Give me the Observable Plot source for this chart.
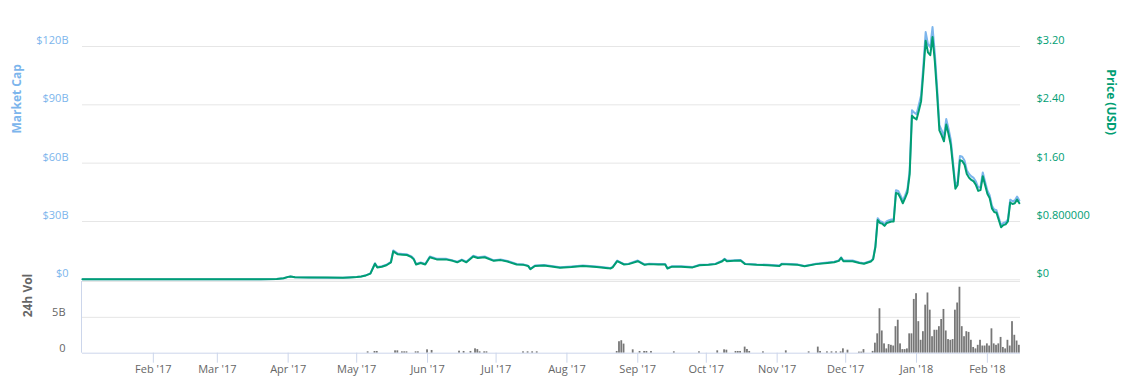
<!DOCTYPE html>
<html><head><meta charset="utf-8">
<script src="https://cdn.jsdelivr.net/npm/d3@7"></script>
<script src="https://cdn.jsdelivr.net/npm/@observablehq/plot@0.6"></script>
<style>
html,body{margin:0;padding:0;background:#fff;}
#wrap{position:relative;width:1131px;height:383px;overflow:hidden;font-family:"Open Sans",sans-serif;}
#wrap svg{position:absolute;left:0;}
</style></head><body><div id="wrap"></div>
<script>
// ---- data ----
const dates = ["2017-01-01","2017-01-10","2017-01-20","2017-02-01","2017-02-14","2017-03-01","2017-03-10","2017-03-20","2017-03-27","2017-03-30",
"2017-04-01","2017-04-02","2017-04-04","2017-04-10","2017-04-18","2017-04-25","2017-04-28","2017-05-01","2017-05-03","2017-05-05",
"2017-05-07","2017-05-09","2017-05-10","2017-05-12","2017-05-14","2017-05-16","2017-05-17","2017-05-19","2017-05-21","2017-05-23",
"2017-05-25","2017-05-26","2017-05-27","2017-05-29","2017-05-31","2017-06-02","2017-06-05","2017-06-09","2017-06-12","2017-06-14",
"2017-06-16","2017-06-18","2017-06-21","2017-06-23","2017-06-26","2017-06-30","2017-07-03","2017-07-06","2017-07-10","2017-07-13",
"2017-07-15","2017-07-16","2017-07-18","2017-07-22","2017-07-26","2017-07-29","2017-08-03","2017-08-08","2017-08-14","2017-08-19",
"2017-08-20","2017-08-21","2017-08-23","2017-08-26","2017-08-28","2017-09-01","2017-09-04","2017-09-06","2017-09-10","2017-09-13",
"2017-09-14","2017-09-16","2017-09-20","2017-09-25","2017-09-28","2017-10-02","2017-10-05","2017-10-08","2017-10-09","2017-10-10",
"2017-10-13","2017-10-16","2017-10-18","2017-10-23","2017-10-28","2017-11-02","2017-11-03","2017-11-07","2017-11-10","2017-11-13",
"2017-11-18","2017-11-23","2017-11-26","2017-11-28","2017-11-29","2017-11-30","2017-12-04","2017-12-07","2017-12-09","2017-12-11",
"2017-12-12","2017-12-13","2017-12-14","2017-12-15","2017-12-16","2017-12-17","2017-12-18","2017-12-19","2017-12-20","2017-12-21",
"2017-12-22","2017-12-23","2017-12-24","2017-12-25","2017-12-26","2017-12-27","2017-12-28","2017-12-29","2017-12-30","2017-12-31",
"2018-01-01","2018-01-02","2018-01-03","2018-01-04","2018-01-05","2018-01-06","2018-01-07","2018-01-08","2018-01-09","2018-01-10",
"2018-01-11","2018-01-12","2018-01-13","2018-01-14","2018-01-15","2018-01-16","2018-01-17","2018-01-18","2018-01-19","2018-01-20",
"2018-01-21","2018-01-22","2018-01-23","2018-01-24","2018-01-25","2018-01-26","2018-01-27","2018-01-28","2018-01-29","2018-01-30",
"2018-01-31","2018-02-01","2018-02-02","2018-02-03","2018-02-04","2018-02-05","2018-02-06","2018-02-07","2018-02-08","2018-02-09",
"2018-02-10","2018-02-11","2018-02-12","2018-02-13","2018-02-14","2018-02-15"];

const priceUSD = [0.0065,0.0068,0.0066,0.0064,0.0063,0.0064,0.0075,0.0088,0.010,0.022,
0.040,0.045,0.034,0.031,0.030,0.029,0.033,0.037,0.046,0.060,
0.085,0.22,0.17,0.18,0.20,0.24,0.39,0.35,0.345,0.34,
0.31,0.28,0.21,0.23,0.21,0.31,0.28,0.28,0.26,0.24,
0.27,0.24,0.32,0.30,0.31,0.26,0.27,0.25,0.21,0.205,
0.19,0.146,0.19,0.196,0.18,0.165,0.175,0.19,0.175,0.16,
0.155,0.17,0.255,0.21,0.215,0.255,0.205,0.215,0.21,0.21,
0.155,0.18,0.18,0.17,0.20,0.205,0.215,0.255,0.28,0.255,
0.26,0.265,0.215,0.205,0.20,0.19,0.215,0.21,0.205,0.185,
0.215,0.23,0.24,0.26,0.30,0.255,0.255,0.23,0.22,0.24,
0.25,0.28,0.45,0.82,0.78,0.77,0.74,0.78,0.79,0.80,
0.80,1.19,1.18,1.12,1.05,1.12,1.20,1.45,2.25,2.22,
2.20,2.32,2.45,2.85,3.28,3.12,3.08,3.33,3.00,2.55,
2.05,1.98,1.90,2.13,2.00,1.85,1.55,1.25,1.30,1.64,
1.63,1.58,1.45,1.40,1.37,1.35,1.30,1.22,1.23,1.42,
1.30,1.18,1.12,0.98,0.93,0.92,0.82,0.72,0.75,0.76,
0.80,1.06,1.04,1.05,1.10,1.05];

const marketCapB = [0.24,0.25,0.24,0.23,0.23,0.23,0.28,0.33,0.37,0.82,
1.5,1.7,1.3,1.2,1.1,1.1,1.25,1.4,1.75,2.3,
3.3,8.5,6.6,7.0,7.7,9.3,15.1,13.5,13.3,13.1,
12.0,10.8,8.1,8.9,8.1,12.0,10.8,10.8,10.0,9.3,
10.4,9.3,12.4,11.6,12.0,10.0,10.4,9.7,8.1,7.9,
7.3,5.6,7.3,7.6,7.0,6.4,6.8,7.3,6.8,6.2,
6.0,6.6,9.9,8.1,8.3,9.9,7.9,8.3,8.1,8.1,
6.0,7.0,7.0,6.6,7.7,7.9,8.3,9.9,10.8,9.9,
10.0,10.2,8.3,7.9,7.7,7.3,8.3,8.1,7.9,7.1,
8.3,8.9,9.3,10.0,11.6,9.9,9.9,8.9,8.5,9.3,
9.7,10.8,17.4,31.7,30.2,29.8,28.6,30.2,30.6,31.0,
31.0,46.1,45.7,43.4,40.7,43.4,46.5,56.2,87.2,86.0,
85.2,89.9,94.9,110.4,127.4,121.2,119.7,130.0,116.6,99.0,
79.6,76.9,73.8,82.7,77.7,71.9,60.2,48.6,50.5,63.7,
63.3,61.4,56.3,54.4,53.2,52.4,50.5,47.4,47.8,55.2,
50.5,45.9,43.5,38.1,36.2,35.8,31.9,28.0,29.2,29.6,
31.1,41.2,40.4,40.8,42.8,40.8];

const volDates = ["2017-05-06","2017-05-09","2017-05-10","2017-05-18","2017-05-19","2017-05-21","2017-05-22","2017-05-23","2017-05-27","2017-05-28",
"2017-06-01","2017-06-03","2017-06-15","2017-06-17","2017-06-20","2017-06-22","2017-06-23","2017-06-24","2017-06-26","2017-06-27",
"2017-07-13","2017-07-15","2017-07-17","2017-07-19","2017-08-23","2017-08-24","2017-08-25","2017-08-26","2017-08-30","2017-09-02",
"2017-09-04","2017-09-05","2017-09-07","2017-09-17","2017-09-28","2017-10-06","2017-10-09","2017-10-10","2017-10-14","2017-10-15",
"2017-10-16","2017-10-18","2017-10-19","2017-10-20","2017-10-26","2017-11-05","2017-11-15","2017-11-19","2017-11-20","2017-11-23",
"2017-11-25","2017-11-27","2017-11-29","2017-11-30","2017-12-02","2017-12-07","2017-12-08","2017-12-09","2017-12-13","2017-12-14",
"2017-12-15","2017-12-16","2017-12-17","2017-12-18","2017-12-19","2017-12-20","2017-12-21","2017-12-22","2017-12-23","2017-12-24",
"2017-12-25","2017-12-26","2017-12-27","2017-12-28","2017-12-29","2017-12-30","2017-12-31","2018-01-01","2018-01-02","2018-01-03",
"2018-01-04","2018-01-05","2018-01-06","2018-01-07","2018-01-08","2018-01-09","2018-01-10","2018-01-11","2018-01-12","2018-01-13",
"2018-01-14","2018-01-15","2018-01-16","2018-01-17","2018-01-18","2018-01-19","2018-01-20","2018-01-21","2018-01-22","2018-01-23",
"2018-01-24","2018-01-25","2018-01-26","2018-01-27","2018-01-28","2018-01-29","2018-01-30","2018-01-31","2018-02-01","2018-02-02",
"2018-02-03","2018-02-04","2018-02-05","2018-02-06","2018-02-07","2018-02-08","2018-02-09","2018-02-10","2018-02-11","2018-02-12",
"2018-02-13","2018-02-14","2018-02-15"];
const volB = [0.19,0.24,0.24,0.33,0.33,0.19,0.19,0.19,0.19,0.19,
0.47,0.38,0.28,0.24,0.24,0.61,0.5,0.19,0.19,0.19,
0.19,0.19,0.19,0.19,0.24,1.6,1.74,1.27,0.47,0.24,
0.24,0.24,0.24,0.19,0.19,0.33,0.47,0.42,0.24,0.24,
0.24,0.85,0.52,0.24,0.19,0.33,0.19,0.85,0.24,0.19,
0.19,0.19,0.19,0.61,0.42,0.15,0.15,0.5,0.25,1.4,
2.7,6.2,3.1,1.3,0.6,1.2,1.1,1.0,3.7,4.6,
1.3,0.5,0.5,0.6,2.7,2.7,7.5,8.3,4.4,1.8,
3.0,6.7,8.4,6.0,2.3,3.2,3.2,3.7,4.7,6.1,
3.1,1.9,1.8,1.9,6.0,7.0,9.2,3.7,2.3,3.0,
2.9,1.8,0.8,0.6,1.1,1.8,1.0,1.0,1.3,1.0,
3.4,1.3,1.1,1.3,2.2,0.8,0.6,1.8,1.0,4.4,
2.5,1.7,1.1];

const mcapTicks = [0, 30, 60, 90, 120];
const mcapTickLabels = ["$0", "$30B", "$60B", "$90B", "$120B"];
const priceTicks = [0, 0.8, 1.6, 2.4, 3.2];
const priceTickLabels = ["$0", "$0.800000", "$1.60", "$2.40", "$3.20"];
const volTicks = [0, 5];
const volTickLabels = ["0", "5B"];
const monthTicks = ["2017-02-01","2017-03-01","2017-04-01","2017-05-01","2017-06-01","2017-07-01","2017-08-01","2017-09-01","2017-10-01","2017-11-01","2017-12-01","2018-01-01","2018-02-01"];
const monthTickLabels = ["Feb '17","Mar '17","Apr '17","May '17","Jun '17","Jul '17","Aug '17","Sep '17","Oct '17","Nov '17","Dec '17","Jan '18","Feb '18"];

// ---- build ----
const rows = dates.map((d, i) => ({date: new Date(d + "T00:00:00Z"), price: priceUSD[i], mcap: marketCapB[i]}));
const volRows = volDates.map((d, i) => ({date: new Date(d + "T00:00:00Z"), vol: volB[i]}));
const monthDates = monthTicks.map(d => new Date(d + "T00:00:00Z"));
const xDomain = [new Date("2017-01-01T00:00:00Z"), new Date("2018-02-15T12:00:00Z")];
const lab = (ticks, labels) => d => labels[ticks.findIndex(t => Math.abs(+t - +d) < 1e-9)];

const FONT = '"Open Sans", sans-serif';
const common = {
  width: 1131, marginLeft: 82, marginRight: 111,
  style: {fontFamily: FONT, fontSize: "11px", background: "transparent", overflow: "visible"}
};
const mainH = 290, mT = 16.84, mB = 10.7;

const capChart = Plot.plot({
  ...common, height: mainH, marginTop: mT, marginBottom: mB,
  x: {type: "utc", domain: xDomain, axis: null},
  y: {domain: [0, 135], label: null},
  marks: [
    Plot.ruleY(mcapTicks, {stroke: "#e6e6e6"}),
    Plot.line(rows, {x: "date", y: "mcap", stroke: "#7cb5ec", strokeWidth: 2, strokeLinejoin: "round"}),
    Plot.axisY({ticks: mcapTicks, tickFormat: lab(mcapTicks, mcapTickLabels), tickSize: 0, tickPadding: 14, dy: -6, fill: "#7cb5ec", label: null}),
    Plot.text(["Market Cap"], {frameAnchor: "left", dx: -65, dy: -15, rotate: -90, fill: "#7cb5ec", fontWeight: "bold", fontSize: 12})
  ]
});

const priceChart = Plot.plot({
  ...common, height: mainH, marginTop: mT, marginBottom: mB,
  x: {type: "utc", domain: xDomain, axis: null},
  y: {domain: [0, 3.6], label: null},
  marks: [
    Plot.line(rows, {x: "date", y: "price", stroke: "#009e73", strokeWidth: 2, strokeLinejoin: "round"}),
    Plot.axisY({anchor: "right", ticks: priceTicks, tickFormat: lab(priceTicks, priceTickLabels), tickSize: 0, tickPadding: 16, dy: -6, fill: "#009e73", label: null}),
    Plot.text(["Price (USD)"], {frameAnchor: "right", dx: 90, dy: -13.5, rotate: 90, fill: "#009e73", fontWeight: "bold", fontSize: 12})
  ]
});

const volChart = Plot.plot({
  ...common, height: 103, marginTop: 1, marginBottom: 30.3,
  x: {type: "utc", domain: xDomain, label: null},
  y: {domain: [0, 10], label: null},
  marks: [
    Plot.ruleY([5, 10], {stroke: "#e6e6e6"}),
    Plot.rectY(volRows, {x: "date", interval: "day", y: "vol", fill: "#777777", insetLeft: 0.25, insetRight: 0.25, dx: -1.14}),
    Plot.ruleY([0], {stroke: "#ccd6eb"}),
    Plot.ruleX([xDomain[0]], {stroke: "#ccd6eb", dx: -1}),
    Plot.axisY({ticks: volTicks, tickFormat: lab(volTicks, volTickLabels), tickSize: 0, tickPadding: 17, dy: -5, fill: "#666666", label: null}),
    Plot.axisX({ticks: monthDates, tickFormat: lab(monthDates, monthTickLabels), tickSize: 10, tickPadding: 2, stroke: "#ccd6eb", fill: "#666666", label: null}),
    Plot.text(["24h Vol"], {frameAnchor: "left", dx: -54, rotate: -90, fill: "#666666", fontWeight: "bold", fontSize: 12})
  ]
});

const wrap = document.getElementById("wrap");
capChart.style.top = "0px";
priceChart.style.top = "0px";
volChart.style.top = "280px";
wrap.appendChild(capChart);
wrap.appendChild(volChart);
wrap.appendChild(priceChart);
</script>
</body></html>
